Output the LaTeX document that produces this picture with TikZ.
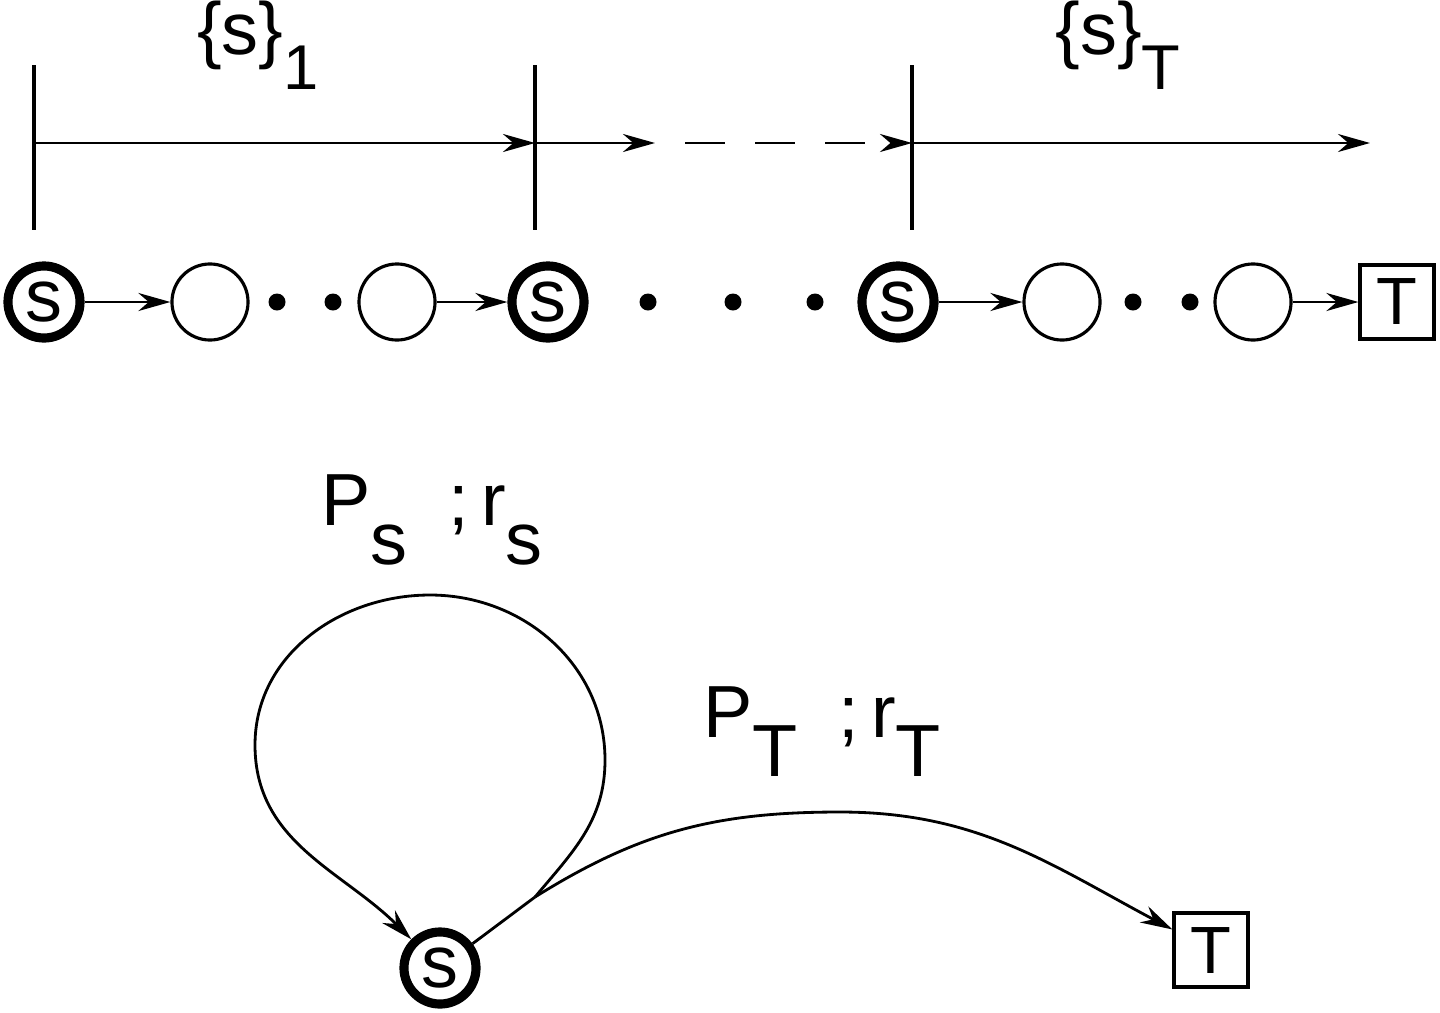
\documentclass[tikz,border=0pt]{standalone}
\usepackage{fontspec}
\setmainfont{Liberation Sans}
\usetikzlibrary{arrows.meta}
\begin{document}
\begin{tikzpicture}[x=0.01cm,y=-0.01cm,
  st/.style={circle,draw,line width=2.6pt,minimum size=0.72cm,inner sep=0pt,font=\fontsize{21}{21}\selectfont},
  cir/.style={circle,draw,line width=0.9pt,minimum size=0.76cm,inner sep=0pt},
  term/.style={rectangle,draw,line width=0.9pt,minimum size=0.74cm,inner sep=0pt,font=\fontsize{19}{19}\selectfont},
  ar/.style={-{Stealth[length=0.32cm,width=0.18cm]},line width=0.8pt},
  dot/.style={circle,fill,inner sep=0pt,minimum size=0.17cm},
  lab/.style={font=\fontsize{21}{21}\selectfont}]
\useasboundingbox (0,0) rectangle (1440,1012);
% top
\node[st] (a) at (44,302) {s};
\node[cir] (b) at (210,302) {};
\node[cir] (c) at (397,302) {};
\node[st] (d) at (548,302) {s};
\node[st] (e) at (898,302) {s};
\node[cir] (f) at (1062,302) {};
\node[cir] (g) at (1253,302) {};
\node[term] (t) at (1397,302) {T};
\foreach \i/\x in {1/277,2/333,3/648,4/733,5/815,6/1133,7/1190}\node[dot] (p\i) at (\x,302) {};
\draw[ar] (a) -- (b);
\draw[ar] (c) -- (d);
\draw[ar] (e) -- (f);
\draw[ar] (g) -- (t);
\foreach \n/\x in {v1/34,v2/535,v3/912}{
 \coordinate (\n t) at (\x,65); \coordinate (\n b) at (\x,230); \coordinate (\n m) at (\x,143);
 \draw[line width=0.9pt] (\n t) -- (\n b);}
\coordinate (h1) at (655,143); \coordinate (h2) at (1370,143);
\draw[ar] (v1m) -- (v2m);
\draw[ar] (v2m) -- (h1);
\draw[ar,dash pattern=on 0.4cm off 0.3cm] ([xshift=0.3cm]h1) -- (v3m);
\draw[ar] (v3m) -- (h2);
\node[lab] (l1) at (258,45) {\{s\}\raisebox{-0.9ex}{\fontsize{18}{18}\selectfont 1}};
\node[lab] (l2) at (1118,45) {\{s\}\raisebox{-0.9ex}{\fontsize{18}{18}\selectfont T}};
% bottom
\node[st] (s) at (440,968) {s};
\node[term] (T) at (1211,950) {T};
\coordinate (j) at (535,897);
\draw[line width=0.8pt] (s) -- (j);
\draw[ar] (j) to[out=50,in=-90] (605,760) to[out=90,in=0] (430,595) to[out=180,in=90] (255,745) to[out=-90,in=135] (s);
\draw[ar] (j) to[out=32,in=180] (840,812) to[out=0,in=152] (T);
\node[lab] (l3) at (432,520) {P\raisebox{-1ex}{s}\ \ ;\,r\raisebox{-1ex}{s}};
\node[lab] (l4) at (822,732) {P\raisebox{-1ex}{T}\ \ ;\,r\raisebox{-1ex}{T}};
\end{tikzpicture}
\end{document}
